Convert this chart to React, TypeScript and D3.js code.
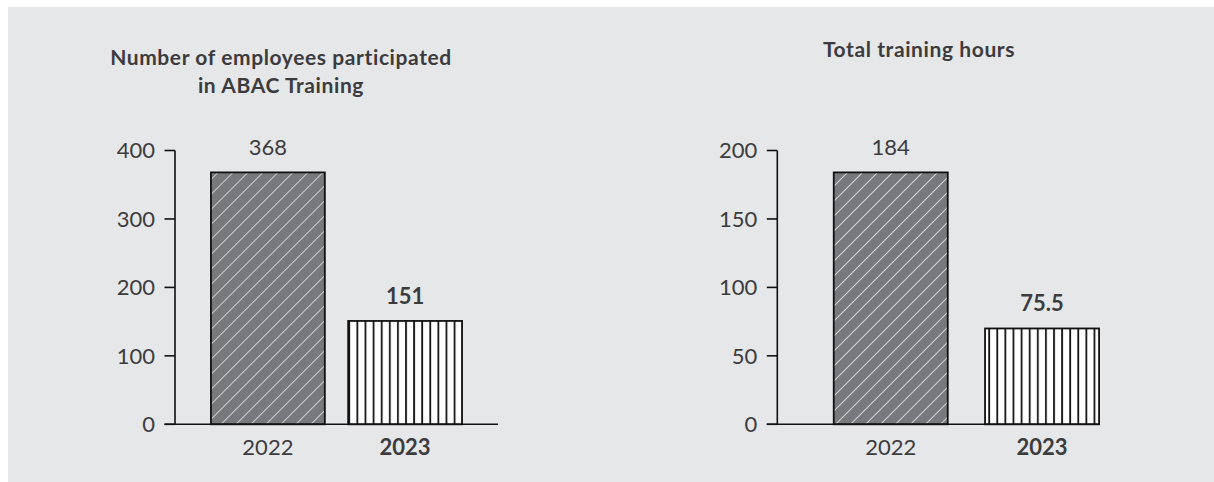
import React from "react";
import * as d3 from "d3";

const years = ["2022", "2023"];
const employees = [368, 151];
const employeeLabels = ["368", "151"];
const employeeTicks = [0, 100, 200, 300, 400];
const hoursBars = [184, 70];
const hoursLabels = ["184", "75.5"];
const hoursTicks = [0, 50, 100, 150, 200];
const titleLeft = ["Number of employees participated", "in ABAC Training"];
const titleRight = ["Total training hours"];

const TEXT = "#3c3c3e";
const FONT = "Lato, 'Open Sans', sans-serif";

type PanelProps = {
  axisX: number;
  rangeEnd: number;
  paddingInner: number;
  paddingOuter: number;
  baselineEnd: number;
  maxY: number;
  ticks: number[];
  values: number[];
  labels: string[];
  title: string[];
  titleX: number;
  titleY: number;
};

function Panel(p: PanelProps) {
  const y0 = 424.3;
  const yTop = 150.5;
  const y = d3.scaleLinear().domain([0, p.maxY]).range([y0, yTop]);
  const x = d3
    .scaleBand<string>()
    .domain(years)
    .range([p.axisX, p.rangeEnd])
    .paddingInner(p.paddingInner)
    .paddingOuter(p.paddingOuter);
  return (
    <g>
      {p.title.map((t, i) => (
        <text
          key={i}
          x={p.titleX}
          y={p.titleY + i * 28}
          textAnchor="middle"
          fontFamily={FONT}
          fontWeight={700}
          fontSize={21}
          letterSpacing={0.6}
          fill={TEXT}
        >
          {t}
        </text>
      ))}
      {p.ticks.map((t) => (
        <g key={t}>
          <line x1={p.axisX - 10.5} x2={p.axisX} y1={y(t)} y2={y(t)} stroke="#111" strokeWidth={1.6} />
          <text
            x={p.axisX - 20}
            y={y(t)}
            dy="0.36em"
            textAnchor="end"
            fontFamily={FONT}
            fontSize={22}
            fill={TEXT}
          >
            {t}
          </text>
        </g>
      ))}
      {years.map((yr, i) => {
        const bx = x(yr)!;
        const bw = x.bandwidth();
        const top = y(p.values[i]);
        return (
          <g key={yr}>
            <rect
              x={bx}
              y={top}
              width={bw}
              height={y0 - top}
              fill={i === 0 ? "url(#diag)" : "url(#vert)"}
              stroke="#111"
              strokeWidth={1.8}
            />
            <text
              x={bx + bw / 2}
              y={top - 17}
              textAnchor="middle"
              fontFamily={FONT}
              fontSize={22}
              fontWeight={i === 1 ? 700 : 400}
              fill={TEXT}
            >
              {p.labels[i]}
            </text>
            <text
              x={bx + bw / 2}
              y={455}
              textAnchor="middle"
              fontFamily={FONT}
              fontSize={22}
              fontWeight={i === 1 ? 700 : 400}
              fill={TEXT}
            >
              {yr}
            </text>
          </g>
        );
      })}
      <line x1={p.axisX} x2={p.axisX} y1={yTop} y2={y0} stroke="#111" strokeWidth={1.6} />
      <line x1={p.axisX - 10.5} x2={p.baselineEnd} y1={y0} y2={y0} stroke="#111" strokeWidth={1.6} />
    </g>
  );
}

export default function App() {
  return (
    <svg
      width={1214}
      height={482}
      style={{ position: "absolute", left: 0, top: 0, display: "block" }}
    >
      <defs>
        <pattern id="diag" patternUnits="userSpaceOnUse" width={10.6} height={10.6} patternTransform="rotate(45)">
          <rect width={10.6} height={10.6} fill="#78797c" />
          <line x1={0} y1={0} x2={0} y2={10.6} stroke="#ffffff" strokeWidth={1.3} />
        </pattern>
        <pattern id="vert" patternUnits="userSpaceOnUse" width={8.1} height={10} x={0}>
          <rect width={8.1} height={10} fill="#ffffff" />
          <line x1={1} y1={0} x2={1} y2={10} stroke="#111" strokeWidth={1.8} />
        </pattern>
      </defs>
      <rect x={8} y={7} width={1206} height={475} fill="#e6e7e9" />
      <Panel
        axisX={175}
        rangeEnd={498}
        paddingInner={0.17}
        paddingOuter={0.262}
        baselineEnd={498}
        maxY={400}
        ticks={employeeTicks}
        values={employees}
        labels={employeeLabels}
        title={titleLeft}
        titleX={281}
        titleY={65}
      />
      <Panel
        axisX={777.3}
        rangeEnd={1155.5}
        paddingInner={0.2465}
        paddingOuter={0.373}
        baselineEnd={1100}
        maxY={200}
        ticks={hoursTicks}
        values={hoursBars}
        labels={hoursLabels}
        title={titleRight}
        titleX={919}
        titleY={57}
      />
    </svg>
  );
}
